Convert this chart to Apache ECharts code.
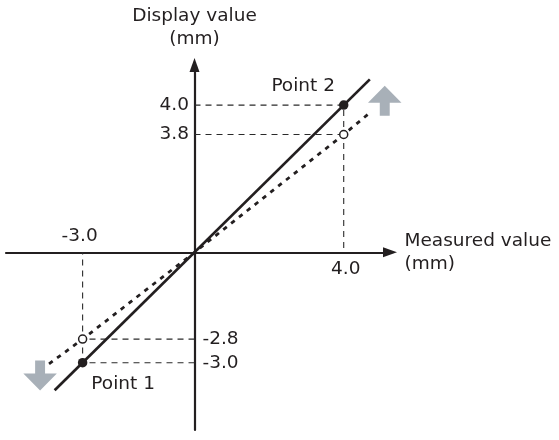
<!DOCTYPE html>
<html>
<head>
<meta charset="utf-8">
<script src="https://cdn.jsdelivr.net/npm/echarts@6/dist/echarts.min.js"></script>
<style>
  html, body { margin: 0; padding: 0; background: #fff; }
  #chart { width: 559px; height: 440px; }
</style>
</head>
<body>
<div id="chart"></div>
<script>
// Two-point calibration: measured value vs. displayed value (mm)
const measured = [-3.0, 4.0];        // Point 1, Point 2 measured
const corrected = [-3.0, 4.0];       // display after calibration
const uncorrected = [-2.8, 3.8];     // display before calibration
const pointNames = ['Point 1', 'Point 2'];
const correctedLine = [[-3.75, -3.75], [4.7, 4.7]];
const uncorrectedLine = [[-3.9, -3.6], [-3.0, -2.8], [0, 0], [4.0, 3.8], [4.7, 4.5]];
// adjustment direction markers: x, y, rotation
const shiftArrows = [[5.1, 4.12, 0], [-4.14, -3.35, 180]];

const INK = '#231f20';
const FONT = 'DejaVu Sans';
const FS = 18.5;
const GUIDE = { color: '#2a2a2a', width: 1.1, type: [6, 5] };
const ARROW_PATH = 'path://M16.85,0 L33.7,17 L21.85,17 L21.85,30 L11.85,30 L11.85,17 L0,17 Z';

const chart = echarts.init(document.getElementById('chart'), null, { renderer: 'canvas' });

const hiddenParts = {
  axisTick: { show: false },
  axisLabel: { show: false },
  splitLine: { show: false }
};
const textStyle = { fontFamily: FONT, fontSize: FS, color: INK };

const series = [];

// dashed guides to the corrected display values (main scale)
measured.forEach((mx, i) => {
  series.push({
    type: 'line', yAxisIndex: 0, silent: true, symbol: 'none', z: 1,
    lineStyle: GUIDE,
    data: [[0, corrected[i]], [mx, corrected[i]], [mx, 0]]
  });
});
// dashed guides to the uncalibrated display values (exaggerated scale)
measured.forEach((mx, i) => {
  series.push({
    type: 'line', yAxisIndex: 1, silent: true, symbol: 'none', z: 1,
    lineStyle: GUIDE,
    data: [[0, uncorrected[i]], [mx, uncorrected[i]]]
  });
});

// calibrated characteristic
series.push({
  type: 'line', yAxisIndex: 0, silent: true, symbol: 'none', z: 3,
  lineStyle: { color: INK, width: 2.7 },
  data: correctedLine
});
// uncalibrated characteristic
series.push({
  type: 'line', yAxisIndex: 1, silent: true, symbol: 'none', z: 3,
  lineStyle: { color: INK, width: 2.8, type: [4.5, 5.5] },
  data: uncorrectedLine
});

// calibration points
series.push({
  type: 'scatter', yAxisIndex: 0, silent: true, z: 5,
  symbol: 'circle', symbolSize: 9.5,
  itemStyle: { color: INK, opacity: 1 },
  data: measured.map((mx, i) => ({
    value: [mx, corrected[i]],
    label: Object.assign({
      show: true,
      formatter: pointNames[i],
      position: mx > 0 ? 'left' : 'right',
      distance: 4,
      offset: mx > 0 ? [0, -19] : [0, 21]
    }, textStyle)
  }))
});
// raw readings (open circles)
series.push({
  type: 'scatter', yAxisIndex: 1, silent: true, z: 5,
  symbol: 'circle', symbolSize: 8,
  itemStyle: { color: '#fff', borderColor: INK, borderWidth: 1.5, opacity: 1 },
  data: measured.map((mx, i) => [mx, uncorrected[i]])
});

// tick labels on the display axis
const yLabel = (pos) => Object.assign({
  show: true, position: pos, distance: pos === 'left' ? 5.5 : 8
}, textStyle);
series.push({
  type: 'scatter', yAxisIndex: 0, silent: true, symbolSize: 0, z: 6,
  itemStyle: { opacity: 1 },
  label: { formatter: p => p.value[1].toFixed(1) },
  data: corrected.map(v => ({ value: [0, v], label: yLabel(v > 0 ? 'left' : 'right') }))
});
series.push({
  type: 'scatter', yAxisIndex: 1, silent: true, symbolSize: 0, z: 6,
  itemStyle: { opacity: 1 },
  label: { formatter: p => p.value[1].toFixed(1) },
  data: uncorrected.map(v => ({ value: [0, v], label: yLabel(v > 0 ? 'left' : 'right') }))
});
// tick labels on the measured axis
series.push({
  type: 'scatter', yAxisIndex: 0, silent: true, symbolSize: 0, z: 6,
  itemStyle: { opacity: 1 },
  label: { formatter: p => p.value[0].toFixed(1) },
  data: measured.map(v => ({
    value: [v, 0],
    label: Object.assign({
      show: true, position: v > 0 ? 'bottom' : 'top', distance: 7,
      offset: v > 0 ? [2, 0] : [-3, 0]
    }, textStyle)
  }))
});

// grey adjustment arrows
series.push({
  type: 'scatter', yAxisIndex: 0, silent: true, z: 2,
  symbol: ARROW_PATH, symbolSize: [33.5, 30],
  itemStyle: { color: '#a8b0b8', opacity: 1 },
  data: shiftArrows.map(a => ({ value: [a[0], a[1]], symbolRotate: a[2] }))
});

chart.setOption({
  animation: false,
  backgroundColor: '#fff',
  textStyle: { fontFamily: FONT },
  grid: { left: 6, right: 169, top: 65, bottom: 10, containLabel: false },
  xAxis: {
    type: 'value', min: -5.054, max: 5.241,
    name: 'Measured value\n(mm)', nameLocation: 'end', nameGap: 14.5,
    nameTextStyle: Object.assign({ align: 'left', lineHeight: 23 }, textStyle),
    axisLine: {
      onZero: true,
      symbol: ['none', 'triangle'], symbolSize: [10, 14],
      lineStyle: { color: INK, width: 2.2 }
    },
    ...hiddenParts
  },
  yAxis: [
    {
      type: 'value', min: -4.829, max: 5.090,
      name: 'Display value\n(mm)', nameLocation: 'end', nameGap: 14.5,
      nameTextStyle: Object.assign({ align: 'center', lineHeight: 23 }, textStyle),
      axisLine: {
        onZero: true,
        symbol: ['none', 'triangle'], symbolSize: [10, 14],
        lineStyle: { color: INK, width: 2.2 }
      },
      ...hiddenParts
    },
    {
      // exaggerated scale for the uncalibrated readings, zero aligned with the main scale
      type: 'value', min: -5.732, max: 6.042, show: false,
      ...hiddenParts
    }
  ],
  series
});
</script>
</body>
</html>
